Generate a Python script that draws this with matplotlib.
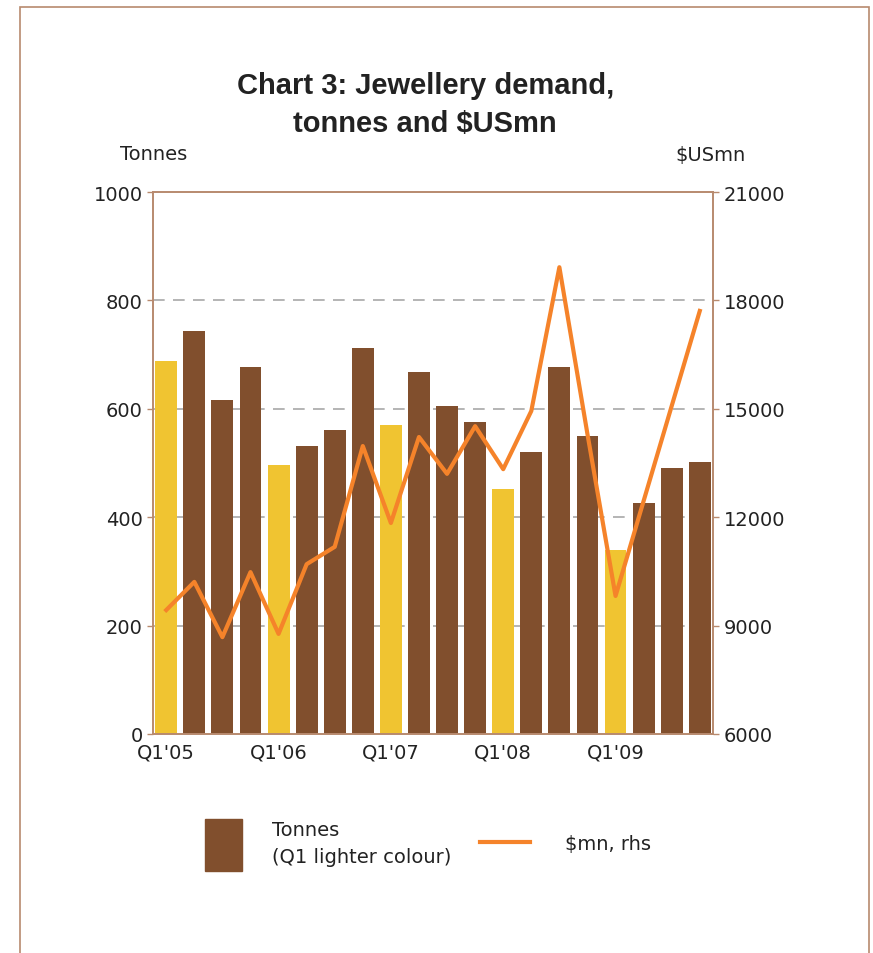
import matplotlib.pyplot as plt
from matplotlib.patches import Rectangle
from matplotlib.lines import Line2D

plt.rcParams['font.family'] = ['DejaVu Sans']

# quarters Q1'05 .. Q4'09
quarters = ["Q1'05", "Q2'05", "Q3'05", "Q4'05",
            "Q1'06", "Q2'06", "Q3'06", "Q4'06",
            "Q1'07", "Q2'07", "Q3'07", "Q4'07",
            "Q1'08", "Q2'08", "Q3'08", "Q4'08",
            "Q1'09", "Q2'09", "Q3'09", "Q4'09"]
tonnes = [688, 744, 616, 677, 496, 531, 561, 712, 570, 668,
          605, 576, 452, 520, 677, 550, 339, 426, 491, 502]
usd_mn = [9430, 10210, 8680, 10480, 8770, 10700, 11180, 13970, 11840, 14220,
          13200, 14520, 13330, 14940, 18920, 14300, 9820, 12450, 15080, 17710]

brown = '#814f2d'
yellow = '#f0c431'
orange = '#f5832a'
frame = '#b88a6e'
txt = '#222222'

fig = plt.figure(figsize=(8.73, 9.54), dpi=100)
ax = fig.add_axes([0.1753, 0.2296, 0.6414, 0.568])

colors = [yellow if q.startswith('Q1') else brown for q in quarters]
x = list(range(len(quarters)))
ax.bar(x, tonnes, width=0.78, color=colors, zorder=2)
ax.set_xlim(-0.47, 19.47)
ax.set_ylim(0, 1000)
ax.set_yticks(range(0, 1001, 200))
ax.set_xticks([i for i in x if quarters[i].startswith('Q1')])
ax.set_xticklabels([q for q in quarters if q.startswith('Q1')])
for y in [200, 400, 600, 800]:
    ax.axhline(y, color='#a8a8a8', lw=1.2, ls=(0, (7, 5)), zorder=1)

ax2 = ax.twinx()
ax2.plot(x, usd_mn, color=orange, lw=3, zorder=3)
ax2.set_ylim(6000, 21000)
ax2.set_yticks(range(6000, 21001, 3000))

for a in (ax, ax2):
    for s in a.spines.values():
        s.set_color(frame)
        s.set_linewidth(1.2)
    a.tick_params(colors=frame, labelcolor=txt, labelsize=14,
                  length=4, width=1)
ax.tick_params(axis='x', length=0, pad=6)

fig.text(0.487, 0.91, 'Chart 3: Jewellery demand,', ha='center', va='center',
         fontsize=21, fontweight='bold', color=txt, family='Liberation Sans')
fig.text(0.487, 0.87, 'tonnes and $USmn', ha='center', va='center',
         fontsize=21, fontweight='bold', color=txt, family='Liberation Sans')
fig.text(120 / 873, 1 - 155 / 954, 'Tonnes', ha='left', va='center', fontsize=14, color=txt)
fig.text(746 / 873, 1 - 155 / 954, '$USmn', ha='right', va='center', fontsize=14, color=txt)

# legend
fig.patches.append(Rectangle((205 / 873, 1 - 872 / 954), 37 / 873, 52 / 954,
                             transform=fig.transFigure, color=brown))
fig.text(272 / 873, 1 - 831 / 954, 'Tonnes', ha='left', va='center',
         fontsize=14, color=txt)
fig.text(272 / 873, 1 - 858 / 954, '(Q1 lighter colour)', ha='left', va='center',
         fontsize=14, color=txt)
fig.lines.append(Line2D([480 / 873, 530 / 873], [1 - 843 / 954, 1 - 843 / 954],
                        transform=fig.transFigure, color=orange, lw=3))
fig.text(565 / 873, 1 - 845 / 954, '$mn, rhs', ha='left', va='center',
         fontsize=14, color=txt)

# outer frame
fig.patches.append(Rectangle((20 / 873, -0.01), 849 / 873, 1 - 8 / 954 + 0.01,
                             transform=fig.transFigure, fill=False,
                             edgecolor=frame, lw=1.2))

fig.savefig('out.png', dpi=100)
